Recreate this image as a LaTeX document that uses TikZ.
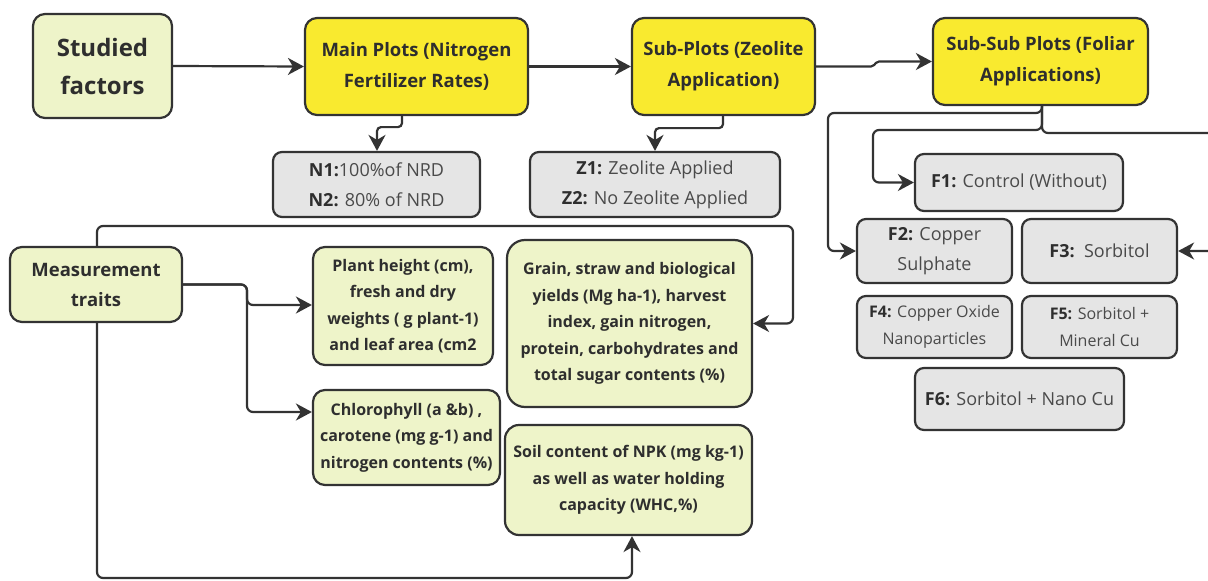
\documentclass[tikz,border=0pt]{standalone}
\usepackage{fontspec}
\setmainfont{Open Sans}
\usetikzlibrary{arrows.meta}
\definecolor{yel}{HTML}{F9EA2F}
\definecolor{grn}{HTML}{EEF4C9}
\definecolor{gry}{HTML}{E5E5E5}
\definecolor{ln}{HTML}{333333}
\definecolor{txt}{HTML}{2E2E2E}
\definecolor{gtxt}{HTML}{4A4A4A}
\newcommand{\flab}[1]{{\color{txt}\bfseries #1}}
\begin{document}
\begin{tikzpicture}[x=1pt,y=-1pt,
 box/.style={draw=ln, line width=2.2pt, rounded corners=12pt, align=center, inner sep=0pt, text=txt},
 ybox/.style={box, fill=yel, font=\bfseries\fontsize{18.5}{31}\selectfont},
 gbox/.style={box, fill=grn, font=\bfseries\fontsize{16}{26.5}\selectfont},
 xbox/.style={box, fill=gry, rounded corners=9pt, text=gtxt, font=\fontsize{18}{30}\selectfont},
 arr/.style={draw=ln, line width=2.2pt, -{Stealth[length=16pt,width=17pt,inset=5pt]}, rounded corners=6pt},
]
\useasboundingbox (0,0) rectangle (1208,581);
\fill[white] (0,0) rectangle (1208,581);

\node[box, fill=grn, font=\bfseries\fontsize{24}{38}\selectfont, minimum width=139pt, minimum height=104pt] (sf) at (102.5,66) {Studied\\factors};
\node[ybox, minimum width=223pt, minimum height=97pt] (mp) at (416.5,66.5) {Main Plots (Nitrogen\\Fertilizer Rates)};
\node[ybox, minimum width=183pt, minimum height=97pt] (sp) at (723.5,66.5) {Sub-Plots (Zeolite\\Application)};
\node[ybox, minimum width=215pt, minimum height=87pt] (ssp) at (1040.5,61.5) {Sub-Sub Plots (Foliar\\Applications)};

\node[xbox, minimum width=207pt, minimum height=65pt] (nb) at (376.5,184.5) {\flab{N1:}100\%of NRD\\\flab{N2:} 80\% of NRD};
\node[xbox, minimum width=250pt, minimum height=65pt] (zb) at (655,184.5) {\flab{Z1:} Zeolite Applied\\\flab{Z2:} No Zeolite Applied};

\node[gbox, font=\bfseries\fontsize{18.5}{30}\selectfont, minimum width=172pt, minimum height=75pt] (mt) at (96,284.5) {Measurement\\traits};
\node[gbox, minimum width=180pt, minimum height=118pt] (ph) at (403,306) {Plant height (cm),\\fresh and dry\\weights ( g plant-1)\\and leaf area (cm2};
\node[gbox, minimum width=187pt, minimum height=95pt] (ch) at (406.5,437.5) {Chlorophyll (a \&b) ,\\carotene (mg g-1) and\\nitrogen contents (\%)};
\node[gbox, minimum width=245pt, minimum height=167pt, rounded corners=18pt] (gr) at (629.5,323.5) {Grain, straw and biological\\yields (Mg ha-1), harvest\\index, gain nitrogen,\\protein, carbohydrates and\\total sugar contents (\%)};
\node[gbox, minimum width=247pt, minimum height=110pt, rounded corners=14pt] (so) at (628.5,480) {Soil content of NPK (mg kg-1)\\as well as water holding\\capacity (WHC,\%)};

\node[xbox, minimum width=208pt, minimum height=57pt] (f1) at (1019,182.5) {\flab{F1:} Control (Without)};
\node[xbox, minimum width=155pt, minimum height=64pt] (f2) at (934.5,251) {\flab{F2:} Copper\\Sulphate};
\node[xbox, minimum width=155pt, minimum height=64pt] (f3) at (1099.5,251) {\flab{F3:}\ \ Sorbitol};
\node[xbox, font=\fontsize{16}{27}\selectfont, minimum width=155pt, minimum height=62pt] (f4) at (934.5,327) {\flab{F4:} Copper Oxide\\Nanoparticles};
\node[xbox, font=\fontsize{16}{27}\selectfont, minimum width=155pt, minimum height=62pt] (f5) at (1099.5,327) {\flab{F5:} Sorbitol +\\Mineral Cu};
\node[xbox, minimum width=209pt, minimum height=62pt] (f6) at (1019.5,399) {\flab{F6:} Sorbitol + Nano Cu};

% top row connectors
\draw[arr] (sf.east) -- (mp.west);
\draw[arr] (mp.east) -- (sp.west);
\draw[arr, rounded corners=2pt] (sp.east) -- (873,66.5) -- (877,61.5) -- (ssp.west);
\draw[arr, rounded corners=4pt] ([xshift=-14.5pt]mp.south) -- ++(0,11) -| ([xshift=0.5pt]nb.north);
\draw[arr, rounded corners=4pt] ([xshift=-0.5pt]sp.south) -- ++(0,12) -| (zb.north);
% foliar branches
\draw[arr] ([xshift=1.5pt]ssp.south) |- (873,130) |- (f1.west);
\draw[arr] ([xshift=1.5pt]ssp.south) |- (828,113) |- (f2.west);
\draw[arr] ([xshift=1.5pt]ssp.south) |- (1214,133) |- (f3.east);
% measurement traits
\draw[arr] (mt.east) -- (247,284.5) |- ([yshift=1pt]ph.west);
\draw[arr] (mt.east) -- (247,284.5) |- ([yshift=25.5pt]ch.west);
\draw[arr] ([xshift=1pt]mt.north) |- (793,226) |- (gr.east);
\draw[arr] ([xshift=1pt]mt.south) |- (632,578) -- ([xshift=3.5pt]so.south);
\end{tikzpicture}
\end{document}
